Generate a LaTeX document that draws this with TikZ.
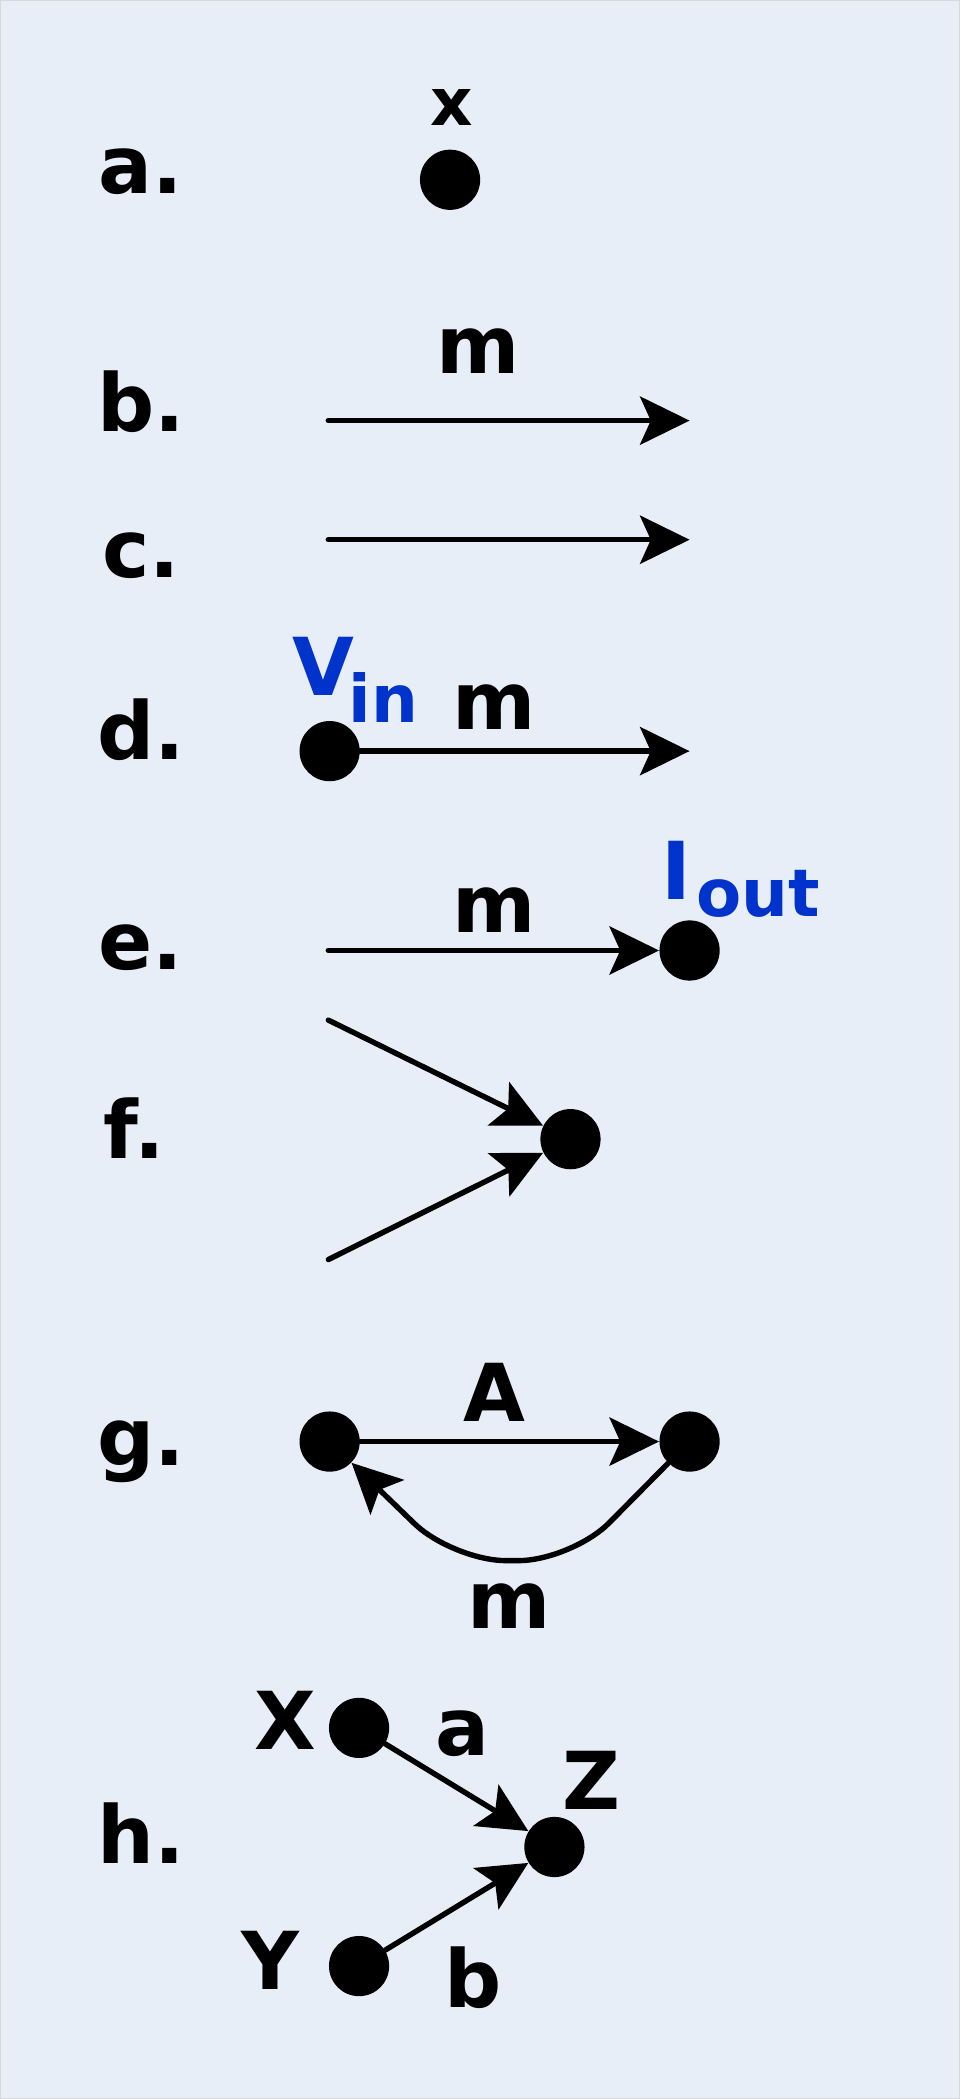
\documentclass[tikz,border=0pt]{standalone}
\usepackage{fontspec}
\setmainfont{DejaVu Sans}
\usepackage{tikz}
\usetikzlibrary{arrows.meta}
\definecolor{bgblue}{HTML}{E8EEF8}
\definecolor{labblue}{HTML}{0033CC}
\tikzset{
  dot/.style={draw=none,fill=black,shape=circle,minimum size=0.9cm,inner sep=0pt},
  big/.style={font=\bfseries\fontsize{34}{40}\selectfont,inner sep=0pt},
  small/.style={font=\bfseries\fontsize{28}{32}\selectfont,inner sep=0pt},
  arr/.style={line width=2.3pt,line cap=round,-{Stealth[length=0.74cm,width=0.72cm,inset=0.16cm]}},
  lin/.style={line width=2.3pt,line cap=round}
}
\begin{document}
\begin{tikzpicture}[x=0.02cm,y=-0.02cm]
        \fill[bgblue,draw=black!15] (0,0) rectangle (717,1568);
        \useasboundingbox (0,0) rectangle (717,1568);
            % a.
            \node[big] (la) at (105,128) {a.};
            \node[dot] (x) at (336,134) {};
            \node[small] at (337,80) {x};
            % b.
            \node[big] (lb) at (105,300) {b.};
            \coordinate (b1) at (245,314);
            \coordinate (b2) at (515,314);
            \draw[arr] (b1) -- (b2);
            \node[big] at (357,262) {m};
            % c.
            \node[big] (lc) at (105,415) {c.};
            \coordinate (c1) at (245,403);
            \coordinate (c2) at (515,403);
            \draw[arr] (c1) -- (c2);
            % d.
            \node[big] (ld) at (105,545) {d.};
            \node[dot] (d1) at (246,561) {};
            \coordinate (d2) at (515,561);
            \draw[arr] (d1.center) -- (d2);
            \node[big,text=labblue] at (241,498) {V};
            \node[small,text=labblue] at (286,521) {in};
            \node[big] at (369,528) {m};
            % e.
            \node[big] (le) at (105,708) {e.};
            \coordinate (e1) at (245,710);
            \node[dot] (e2) at (515,710) {};
            \draw[arr] (e1) -- (e2);
            \node[big] at (369,680) {m};
            \node[big,text=labblue] at (505,650) {I};
            \node[small,text=labblue] at (566,668) {out};
            % f.
            \node[big] (lf) at (100,843) {f.};
            \node[dot] (f) at (426,851) {};
            \coordinate (f1) at (245,762);
            \coordinate (f2) at (245,941);
            \draw[arr] (f1) -- (f);
            \draw[arr] (f2) -- (f);
            % g.
            \node[big] (lg) at (105,1085) {g.};
            \node[dot] (g1) at (246,1077) {};
            \node[dot] (g2) at (515,1077) {};
            \draw[arr] (g1) -- (g2);
            \draw[arr,rounded corners=0.8cm] (g2) -- (427,1166) -- (338,1166) -- (g1);
            \node[big] at (369,1040) {A};
            \node[big] at (380,1200) {m};
            % h.
            \node[big] (lh) at (105,1370) {h.};
            \node[dot] (hx) at (268,1291) {};
            \node[dot] (hy) at (268,1469) {};
            \node[dot] (hz) at (414,1380) {};
            \draw[arr] (hx) -- (hz);
            \draw[arr] (hy) -- (hz);
            \node[big] at (213,1285) {X};
            \node[big] at (202,1465) {Y};
            \node[big] at (442,1330) {Z};
            \node[big] at (345,1295) {a};
            \node[big] at (353,1478) {b};
        \end{tikzpicture}
\end{document}
